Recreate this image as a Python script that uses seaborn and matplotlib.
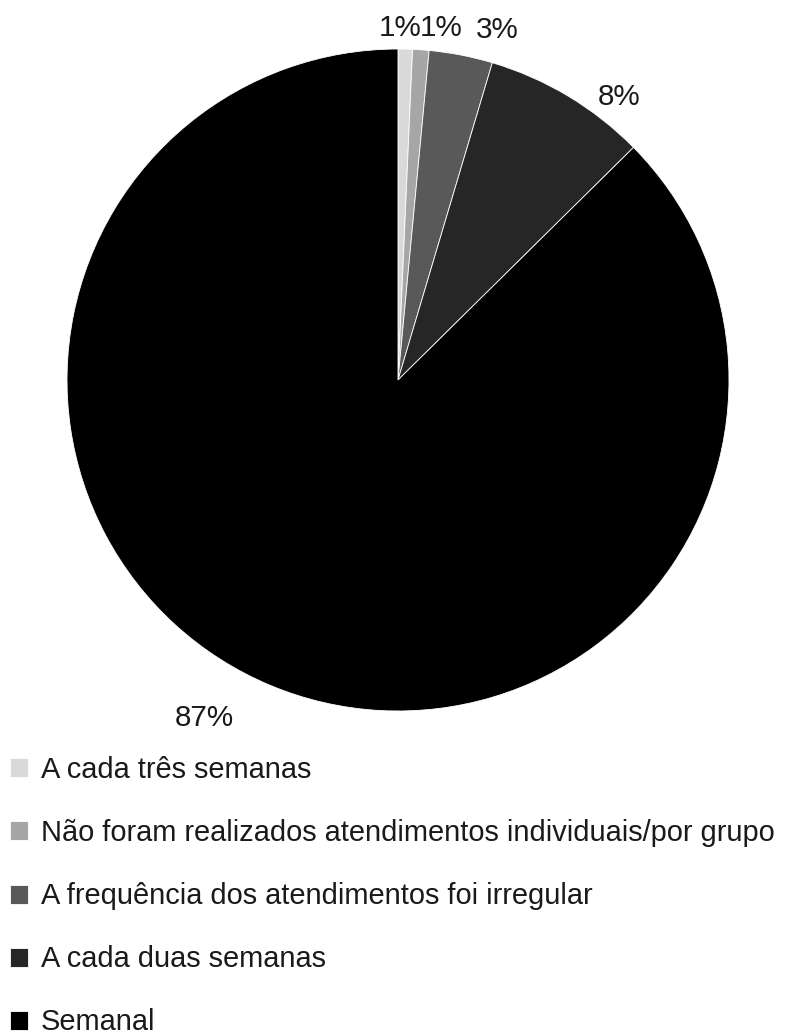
import matplotlib
matplotlib.use("Agg")
import matplotlib.pyplot as plt
import seaborn as sns
import numpy as np

# Frequency of sessions (share of respondents, %)
categories = [
    "A cada três semanas",
    "Não foram realizados atendimentos individuais/por grupo",
    "A frequência dos atendimentos foi irregular",
    "A cada duas semanas",
    "Semanal",
]
shares = [0.7, 0.8, 3.1, 8.0, 87.4]
slice_colors = ["#d9d9d9", "#a6a6a6", "#595959", "#262626", "#000000"]

sns.set_theme(style="white")
plt.rcParams["font.family"] = ["Liberation Sans", "DejaVu Sans"]

W, H = 795, 1036
fig = plt.figure(figsize=(W / 100, H / 100), dpi=100)
FS_LABEL = 21.3
FS_LEGEND = 20.9

# pie axes: radius 1 in data units
cx, cy, r = 398, 380, 331
ax = fig.add_axes([(cx - r) / W, (H - cy - r) / H, 2 * r / W, 2 * r / H])
palette = sns.color_palette(slice_colors)
wedges, _ = ax.pie(
    shares,
    colors=palette,
    startangle=90,
    counterclock=False,
    radius=1.0,
    wedgeprops=dict(edgecolor="white", linewidth=0.6),
)
ax.set_xlim(-1, 1)
ax.set_ylim(-1, 1)
ax.set_aspect("equal")
ax.axis("off")

# percentage labels placed outside the pie
label_pos = [(0.006, 1.063), (0.130, 1.063), (0.299, 1.057), (0.668, 0.855), (-0.586, -1.021)]
for v, (lx, ly) in zip(shares, label_pos):
    ax.text(lx, ly, f"{v:.0f}%", ha="center", va="center", fontsize=FS_LABEL,
            color="#1a1a1a", clip_on=False)

fig.legend(
    wedges,
    categories,
    loc="upper left",
    bbox_to_anchor=(10 / W, 1 - 756 / H),
    frameon=False,
    fontsize=FS_LEGEND,
    handlelength=0.63,
    handleheight=0.63,
    handletextpad=0.44,
    labelspacing=1.21,
    borderpad=0,
    borderaxespad=0,
    labelcolor="#1a1a1a",
)

fig.savefig("out.png", dpi=100, facecolor="white")
